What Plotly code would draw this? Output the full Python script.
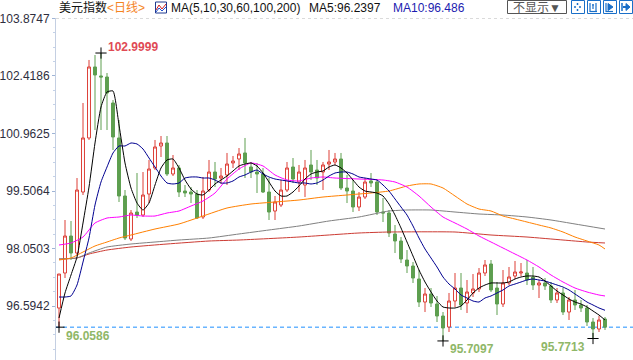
import plotly.graph_objects as go

# ---------------- data ----------------
idx = list(range(92))

opens = [96.543, 97.430, 98.367, 97.936, 99.481, 100.849, 102.647, 102.419, 102.393, 101.735,
         100.849, 99.380, 98.291, 98.974, 98.898, 99.430, 100.089, 100.646, 100.722, 99.937,
         100.089, 99.506, 99.481, 99.430, 98.848, 99.531, 99.987, 99.835, 99.912, 100.216,
         100.317, 100.469, 100.114, 99.987, 99.937, 99.481, 98.999, 99.152, 99.531, 100.114,
         99.734, 99.658, 100.165, 100.038, 99.987, 100.190, 100.241, 100.317, 99.582, 99.506,
         99.101, 99.354, 99.760, 99.734, 98.974, 98.949, 98.418, 98.240, 97.759, 97.607,
         97.278, 96.695, 96.898, 96.645, 96.341, 96.062, 96.721, 97.050, 96.670, 96.924,
         97.025, 97.430, 97.658, 97.050, 96.645, 97.177, 97.354, 97.430, 97.430, 97.329,
         97.126, 97.177, 97.101, 96.746, 96.924, 96.442, 96.746, 96.620, 96.544, 96.189,
         96.012, 96.265]

highs = [97.404, 98.772, 98.746, 99.835, 101.735, 102.824, 102.950, 102.9999, 102.494, 101.811,
         101.304, 99.531, 99.025, 99.962, 99.987, 100.292, 100.798, 100.899, 100.899, 100.418,
         100.165, 99.658, 99.607, 99.531, 99.861, 100.292, 100.241, 100.089, 100.469, 100.393,
         100.595, 100.849, 100.241, 100.216, 100.089, 99.835, 99.380, 99.785, 100.241, 100.342,
         100.165, 100.292, 100.545, 100.292, 100.241, 100.545, 100.469, 100.469, 99.912, 99.785,
         99.481, 99.835, 99.962, 99.785, 99.329, 99.025, 98.645, 98.341, 98.012, 97.708,
         97.506, 97.050, 97.050, 96.847, 96.442, 96.924, 97.430, 97.430, 97.253, 97.404,
         97.556, 97.759, 97.759, 97.202, 97.506, 97.582, 97.734, 97.683, 97.759, 97.582,
         97.253, 97.303, 97.202, 97.050, 97.050, 96.822, 96.999, 96.746, 96.620, 96.290,
         96.341, 96.316]

lows = [96.0586, 97.303, 97.759, 97.885, 99.405, 100.798, 101.051, 101.051, 101.051, 100.545,
        99.228, 98.265, 98.240, 98.822, 98.848, 99.202, 100.038, 100.367, 99.886, 99.886,
        99.354, 99.354, 99.202, 98.797, 98.797, 99.481, 99.607, 99.684, 99.658, 100.089,
        100.038, 99.835, 99.835, 99.456, 99.456, 98.772, 98.772, 99.101, 99.481, 99.709,
        99.481, 99.354, 99.785, 99.658, 99.531, 100.038, 100.165, 99.531, 99.202, 98.974,
        98.999, 99.304, 99.607, 98.898, 98.721, 98.341, 97.936, 97.683, 97.430, 97.177,
        96.569, 96.442, 96.569, 96.189, 95.7097, 95.936, 96.569, 96.493, 96.417, 96.822,
        96.949, 97.354, 96.949, 96.366, 96.569, 97.126, 97.278, 97.354, 97.126, 97.000,
        96.797, 97.000, 96.670, 96.670, 96.366, 96.240, 96.493, 96.442, 96.088, 95.7713,
        95.936, 95.987]

closes = [97.404, 98.367, 97.936, 99.531, 100.849, 102.647, 102.444, 102.393, 101.988, 100.874,
          99.380, 98.316, 98.949, 98.898, 99.405, 100.063, 100.621, 100.722, 99.937, 100.089,
          99.481, 99.456, 99.430, 98.822, 99.506, 99.987, 99.810, 99.886, 100.190, 100.266,
          100.444, 100.216, 99.987, 99.937, 99.481, 98.974, 99.228, 99.531, 100.089, 99.810,
          99.987, 100.089, 99.987, 99.835, 100.165, 100.241, 100.317, 99.582, 99.506, 99.101,
          99.354, 99.734, 99.709, 98.974, 98.949, 98.443, 98.240, 97.784, 97.607, 97.303,
          96.695, 96.898, 96.670, 96.341, 96.037, 96.721, 97.050, 96.620, 96.949, 97.025,
          97.430, 97.633, 97.000, 96.645, 97.177, 97.329, 97.455, 97.455, 97.253, 97.126,
          97.177, 97.101, 96.746, 96.924, 96.442, 96.746, 96.620, 96.544, 96.189, 96.012,
          96.240, 96.0586]

ma5 = [96.290, 96.924, 97.379, 97.835, 98.696, 99.607, 100.722, 101.633, 102.013, 102.039,
       101.178, 100.216, 99.582, 99.202, 99.025, 99.202, 99.658, 100.089, 100.292, 100.317,
       100.089, 99.785, 99.557, 99.430, 99.405, 99.531, 99.684, 99.785, 99.886, 100.013,
       100.140, 100.190, 100.216, 100.140, 99.962, 99.734, 99.506, 99.380, 99.380, 99.481,
       99.633, 99.810, 99.937, 99.987, 100.013, 100.114, 100.165, 100.089, 99.962, 99.785,
       99.607, 99.506, 99.481, 99.456, 99.380, 99.177, 98.898, 98.570, 98.215, 97.860,
       97.506, 97.202, 96.949, 96.721, 96.569, 96.544, 96.544, 96.594, 96.746, 96.924,
       97.050, 97.126, 97.177, 97.177, 97.177, 97.202, 97.278, 97.329, 97.354, 97.354,
       97.329, 97.227, 97.101, 96.974, 96.873, 96.772, 96.695, 96.645, 96.569, 96.468,
       96.366, 96.2397]

ma10 = [96.822, 96.822, 96.848, 97.126, 97.708, 98.316, 99.152, 99.734, 100.114, 100.469,
        100.646, 100.646, 100.722, 100.697, 100.570, 100.342, 100.114, 99.886, 99.709, 99.684,
        99.709, 99.835, 99.861, 99.861, 99.835, 99.835, 99.785, 99.709, 99.709, 99.760,
        99.861, 99.912, 99.987, 100.038, 99.937, 99.861, 99.810, 99.785, 99.760, 99.734,
        99.709, 99.709, 99.684, 99.709, 99.785, 99.886, 99.962, 99.987, 99.987, 99.937,
        99.861, 99.835, 99.810, 99.785, 99.658, 99.506, 99.304, 99.101, 98.898, 98.620,
        98.316, 98.038, 97.810, 97.582, 97.329, 97.151, 97.025, 96.873, 96.797, 96.721,
        96.695, 96.797, 96.848, 96.924, 97.000, 97.101, 97.151, 97.202, 97.253, 97.278,
        97.253, 97.227, 97.177, 97.126, 97.075, 97.000, 96.898, 96.797, 96.695, 96.620,
        96.544, 96.486]

ma30_idx = [0, 2, 4, 6, 8, 10, 12, 14, 16, 18, 20, 22, 24, 26, 28, 30, 32, 34, 36, 38, 40, 42,
            44, 46, 50, 54, 56, 58, 60, 62, 64, 66, 68, 70, 72, 74, 76, 78, 80, 82, 84, 86, 88,
            90, 91]
ma30 = [98.139, 98.190, 98.341, 98.696, 98.822, 98.848, 98.898, 98.873, 98.873, 98.949, 99.000,
        99.126, 99.253, 99.456, 99.810, 100.063, 100.216, 100.140, 99.912, 99.785, 99.760,
        99.835, 99.861, 99.835, 99.810, 99.785, 99.734, 99.607, 99.380, 99.101, 98.848, 98.696,
        98.544, 98.367, 98.215, 98.063, 97.911, 97.759, 97.582, 97.379, 97.202, 97.050, 96.949,
        96.873, 96.848]

ma60_idx = [0, 2, 4, 6, 8, 10, 12, 16, 20, 24, 28, 32, 36, 40, 44, 48, 52, 55, 58, 60, 62, 64,
            66, 68, 70, 72, 74, 76, 78, 80, 82, 84, 86, 88, 90, 91]
ma60 = [97.759, 97.810, 97.961, 98.114, 98.215, 98.316, 98.392, 98.544, 98.671, 98.873, 99.076,
        99.177, 99.228, 99.278, 99.354, 99.405, 99.456, 99.506, 99.633, 99.684, 99.684, 99.582,
        99.380, 99.177, 99.050, 99.000, 98.873, 98.797, 98.721, 98.645, 98.570, 98.468, 98.341,
        98.240, 98.139, 98.038]

ma100_idx = [0, 3, 5, 8, 12, 16, 20, 25, 30, 35, 40, 45, 50, 55, 58, 62, 66, 70, 74, 78, 82, 86,
             91]
ma100 = [97.784, 97.810, 97.936, 98.088, 98.164, 98.215, 98.265, 98.316, 98.418, 98.519, 98.620,
         98.747, 98.848, 99.000, 99.025, 99.025, 98.974, 98.924, 98.898, 98.848, 98.772, 98.671,
         98.544]

ma200_idx = [0, 3, 5, 8, 12, 18, 25, 30, 40, 50, 55, 66, 72, 78, 84, 88, 91]
ma200 = [97.784, 97.810, 97.911, 98.012, 98.088, 98.164, 98.240, 98.265, 98.341, 98.443, 98.468,
         98.468, 98.392, 98.341, 98.265, 98.215, 98.190]

tick_vals = [96.5942, 98.0503, 99.5064, 100.9625, 102.4186, 103.8747]
tick_text = ["96.5942", "98.0503", "99.5064", "100.9625", "102.4186", "103.8747"]

ext_idx = [7, 0, 64, 89]
ext_kind = ["high", "low", "low", "low"]
last_price = 96.0586

# ---------------- layout helpers ----------------
W, H = 633, 360
ML, MT = 56, 18
PW, PH = W - ML, H - MT


def px(x):
    return (x - ML) / PW


def py(y):
    return (H - y) / PH


FONT = "Liberation Sans, Arial, Noto Sans CJK SC, sans-serif"
RED = "#dd3f37"
GREEN = "#5e9f50"

fig = go.Figure()

fig.add_trace(go.Candlestick(
    x=idx, open=opens, high=highs, low=lows, close=closes,
    increasing=dict(line=dict(color=RED, width=1), fillcolor="white"),
    decreasing=dict(line=dict(color=GREEN, width=1), fillcolor=GREEN),
    whiskerwidth=0, hoverinfo="skip", showlegend=False,
))

ma_specs = [
    (ma200_idx, ma200, "#cc3b33"),
    (ma100_idx, ma100, "#808080"),
    (ma60_idx, ma60, "#ff8000"),
    (ma30_idx, ma30, "#ff00ff"),
    (idx, ma10, "#000090"),
    (idx, ma5, "#000000"),
]
for xs, ys, col in ma_specs:
    fig.add_trace(go.Scatter(x=xs, y=ys, mode="lines",
                             line=dict(color=col, width=1, shape="spline", smoothing=0.5),
                             hoverinfo="skip", showlegend=False))

# extreme markers
ext_vals = [highs[i] if k == "high" else lows[i] for i, k in zip(ext_idx, ext_kind)]
fig.add_trace(go.Scatter(x=ext_idx, y=ext_vals, mode="markers",
                         marker=dict(symbol="cross-thin", size=8, line=dict(color="black", width=1)),
                         hoverinfo="skip", showlegend=False))

shapes = []
# last price dashed line
shapes.append(dict(type="line", xref="paper", yref="y", x0=0, x1=1, y0=last_price, y1=last_price,
                   line=dict(color="#1e8fff", width=1, dash="4px,3px"), layer="below"))
# top dashed grid line
shapes.append(dict(type="line", xref="paper", yref="y", x0=0, x1=1, y0=tick_vals[-1], y1=tick_vals[-1],
                   line=dict(color="#dadada", width=1, dash="3px,3px"), layer="below"))

# "不显示" box
shapes.append(dict(type="rect", xref="paper", yref="paper", x0=px(507.5), x1=px(566.5),
                   y0=py(13.5), y1=py(0.5), line=dict(color="#555555", width=1)))
# four tool icons
BLUE = "#1a6fc8"
for x0 in [571, 587, 603, 619]:
    shapes.append(dict(type="rect", xref="paper", yref="paper", x0=px(x0 + 0.5), x1=px(x0 + 13.5),
                       y0=py(13.5), y1=py(0.5), line=dict(color=BLUE, width=1)))
# icon 1: dotted cross
for (a, b, c, d) in [(574, 7, 576, 7), (579, 7, 581, 7), (577.5, 3, 577.5, 5), (577.5, 9, 577.5, 11)]:
    shapes.append(dict(type="line", xref="paper", yref="paper", x0=px(a), x1=px(c), y0=py(b), y1=py(d),
                       line=dict(color=BLUE, width=1.5)))
# icon 2: bars
for (a, b, c, d) in [(590, 3, 590, 12), (596, 3, 596, 12), (590, 11.5, 597, 11.5), (592, 5, 594, 5),
                     (593, 4, 593, 9)]:
    shapes.append(dict(type="line", xref="paper", yref="paper", x0=px(a), x1=px(c), y0=py(b), y1=py(d),
                       line=dict(color=BLUE, width=1.2)))
# icon 3: bar + triangle
shapes.append(dict(type="line", xref="paper", yref="paper", x0=px(606), x1=px(606), y0=py(3), y1=py(12),
                   line=dict(color=BLUE, width=1.2)))
shapes.append(dict(type="path", xref="paper", yref="paper",
                   path=f"M {px(608)} {py(3.5)} L {px(613)} {py(7)} L {px(608)} {py(10.5)} Z",
                   fillcolor=BLUE, line=dict(color=BLUE, width=1)))
shapes.append(dict(type="line", xref="paper", yref="paper", x0=px(606), x1=px(613), y0=py(11.5), y1=py(11.5),
                   line=dict(color=BLUE, width=1.2)))
# icon 4: bar + arrow
shapes.append(dict(type="line", xref="paper", yref="paper", x0=px(622), x1=px(622), y0=py(3), y1=py(11),
                   line=dict(color=BLUE, width=1.5)))
shapes.append(dict(type="line", xref="paper", yref="paper", x0=px(623), x1=px(627), y0=py(7), y1=py(7),
                   line=dict(color=BLUE, width=2)))
shapes.append(dict(type="path", xref="paper", yref="paper",
                   path=f"M {px(626)} {py(3.5)} L {px(630)} {py(7)} L {px(626)} {py(10.5)} Z",
                   fillcolor=BLUE, line=dict(color=BLUE, width=1)))
# small chart icon in header
shapes.append(dict(type="rect", xref="paper", yref="paper", x0=px(155.5), x1=px(166.5),
                   y0=py(13), y1=py(2), line=dict(color="#203a90", width=1)))
shapes.append(dict(type="path", xref="paper", yref="paper",
                   path=f"M {px(156)} {py(10)} L {px(159)} {py(5)} L {px(162)} {py(9)} L {px(166)} {py(4)}",
                   line=dict(color="#d02020", width=1)))
shapes.append(dict(type="path", xref="paper", yref="paper",
                   path=f"M {px(156)} {py(12)} L {px(159)} {py(8)} L {px(162)} {py(11)} L {px(166)} {py(7)}",
                   line=dict(color="#2050d0", width=1)))

annotations = []


def head(text, x, color, size=12, anchor="left"):
    annotations.append(dict(xref="paper", yref="paper", x=px(x), y=py(7.5), text=text, showarrow=False,
                            xanchor=anchor, yanchor="middle",
                            font=dict(family=FONT, size=size, color=color)))


head("美元指数", 57, "#111111")
head("&lt;日线&gt;", 105, "#f5841f")
head("MA(5,10,30,60,100,200)", 169, "#111111")
head(f"MA5:{ma5[-1]:.4f}", 307, "#111111")
head(f"MA10:{ma10[-1]:.3f}", 391, "#1c1cb0")
head("不显示▼", 537, "#555555", anchor="center")

# extreme labels
lab_specs = [
    (0, dict(xanchor="left", xshift=5, yshift=6, color="#e04a55")),
    (1, dict(xanchor="left", xshift=5, yshift=-8.5, color="#8fb768")),
    (2, dict(xanchor="left", xshift=5, yshift=-8, color="#8fb768")),
    (3, dict(xanchor="right", xshift=-6, yshift=-8.5, color="#8fb768")),
]
for k, s in lab_specs:
    annotations.append(dict(x=ext_idx[k], y=ext_vals[k], xref="x", yref="y",
                            text=f"<b>{ext_vals[k]:.4f}</b>", showarrow=False,
                            xanchor=s["xanchor"], yanchor="middle", xshift=s["xshift"], yshift=s["yshift"],
                            font=dict(family=FONT, size=12, color=s["color"])))

fig.update_layout(
    width=W, height=H,
    margin=dict(l=ML, r=0, t=MT, b=0),
    paper_bgcolor="white", plot_bgcolor="white",
    showlegend=False,
    shapes=shapes, annotations=annotations,
    xaxis=dict(range=[-0.5, (W - ML) / 6 - 0.5], visible=False, rangeslider=dict(visible=False),
               fixedrange=True, automargin=False),
    yaxis=dict(range=[95.227, 103.887], tickvals=tick_vals, ticktext=tick_text,
               ticks="outside", ticklen=3, tickcolor="#9fb4d6", showline=True, linecolor="#c4cfe2",
               linewidth=1, showgrid=False, zeroline=False, automargin=False,
               tickfont=dict(family=FONT, size=12, color="#2e2e3e"),
               minor=dict(tick0=96.5942, dtick=0.364025, ticks="outside", ticklen=2, tickcolor="#c4d2e8"),
               fixedrange=True),
)

fig.write_html("out.html", config={"displayModeBar": False},
               post_script="document.body.style.margin='0px';document.body.style.padding='0px';")
